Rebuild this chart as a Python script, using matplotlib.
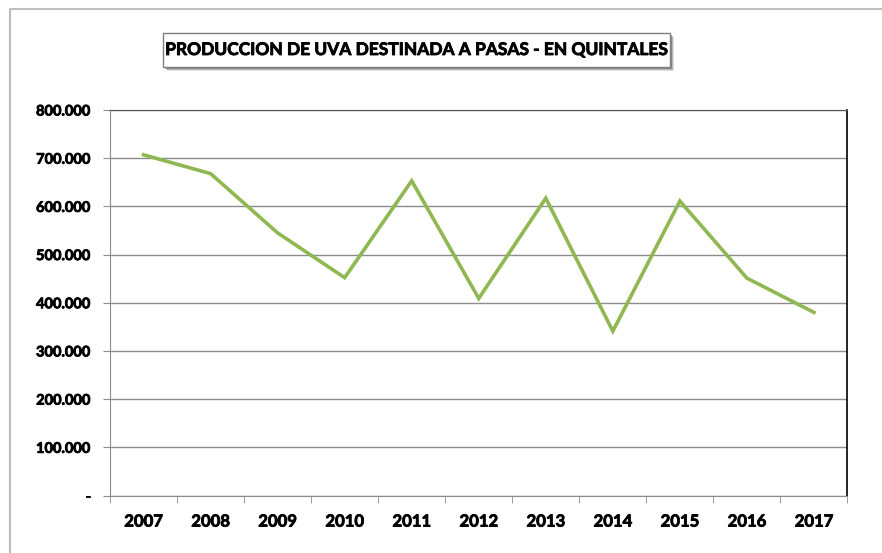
import matplotlib
matplotlib.use("Agg")
import matplotlib.pyplot as plt
from matplotlib.lines import Line2D
from matplotlib.patches import Rectangle
from matplotlib.ticker import FixedLocator, FuncFormatter
import matplotlib.patheffects as pe

years = ["2007", "2008", "2009", "2010", "2011", "2012", "2013", "2014", "2015", "2016", "2017"]
values = [707000, 668000, 545000, 452000, 653000, 409000, 617000, 341000, 611000, 451000, 380000]
title = "PRODUCCION DE UVA DESTINADA A PASAS - EN QUINTALES"
yticks = [0, 100000, 200000, 300000, 400000, 500000, 600000, 700000, 800000]

W, H = 882, 553
fig = plt.figure(figsize=(W / 100, H / 100), dpi=100)
fig.patch.set_facecolor("white")

# outer chart border (only top and left visible)
fig.add_artist(Line2D([9.5 / W, 9.5 / W, 1.0], [0, 1 - 9 / H, 1 - 9 / H], transform=fig.transFigure,
                      color="#bdbdbd", linewidth=1.5))

left, right, top, bottom = 110, 847.5, 110, 495.5
ax = fig.add_axes([left / W, 1 - bottom / H, (right - left) / W, (bottom - top) / H])

x = list(range(len(years)))
ax.plot(x, values, color="#8fb853", linewidth=2.6, solid_joinstyle="miter")

ax.set_xlim(-0.5, len(years) - 0.5)
ax.set_ylim(0, 800000)
ax.yaxis.set_major_locator(FixedLocator(yticks))

def fmt(v, pos):
    if v == 0:
        return "-"
    return f"{int(v):,}".replace(",", ".")

ax.yaxis.set_major_formatter(FuncFormatter(fmt))
ax.grid(axis="y", color="#8c8c8c", linewidth=1.0)
ax.set_axisbelow(True)

ax.set_xticks(x)
ax.set_xticklabels(years)
ax.set_xticks([i - 0.5 for i in range(len(years) + 1)], minor=True)
ax.tick_params(axis="x", which="major", length=0, pad=13)
ax.tick_params(axis="x", which="minor", length=5, color="#8c8c8c", direction="out")
ax.tick_params(axis="y", length=5, color="#8c8c8c", pad=9)

stroke = [pe.withStroke(linewidth=0.6, foreground="black")]
for lab in ax.get_xticklabels():
    lab.set_fontfamily("Lato")
    lab.set_fontweight("bold")
    lab.set_fontsize(12)
    lab.set_path_effects(stroke)
for lab in ax.get_yticklabels():
    lab.set_fontfamily("Lato")
    lab.set_fontweight("bold")
    lab.set_fontsize(10.5)
    lab.set_path_effects(stroke)

ax.spines["left"].set_color("#8c8c8c")
ax.spines["bottom"].set_color("#8c8c8c")
ax.spines["top"].set_color("#555555")
ax.spines["right"].set_color("#000000")
ax.spines["right"].set_linewidth(1.2)

# title box with shadow
bx0, by0, bx1, by1 = 163, 33, 670, 67
for off, alpha in [(4, 0.12), (3, 0.18), (2, 0.25)]:
    fig.add_artist(Rectangle(((bx0 + off) / W, 1 - (by1 + off) / H), (bx1 - bx0) / W, (by1 - by0) / H,
                             transform=fig.transFigure, facecolor="#000000", edgecolor="none", alpha=alpha))
fig.add_artist(Rectangle((bx0 / W, 1 - by1 / H), (bx1 - bx0) / W, (by1 - by0) / H,
                         transform=fig.transFigure, facecolor="white", edgecolor="#7f7f7f", linewidth=1.0))
fig.text((bx0 + bx1) / 2 / W, 1 - (by0 + by1) / 2 / H, title, ha="center", va="center",
         fontfamily="Lato", fontweight="bold", fontsize=12.5, color="black",
         path_effects=[pe.withStroke(linewidth=0.6, foreground="black")])

fig.savefig("out.png", dpi=100, facecolor="white")
